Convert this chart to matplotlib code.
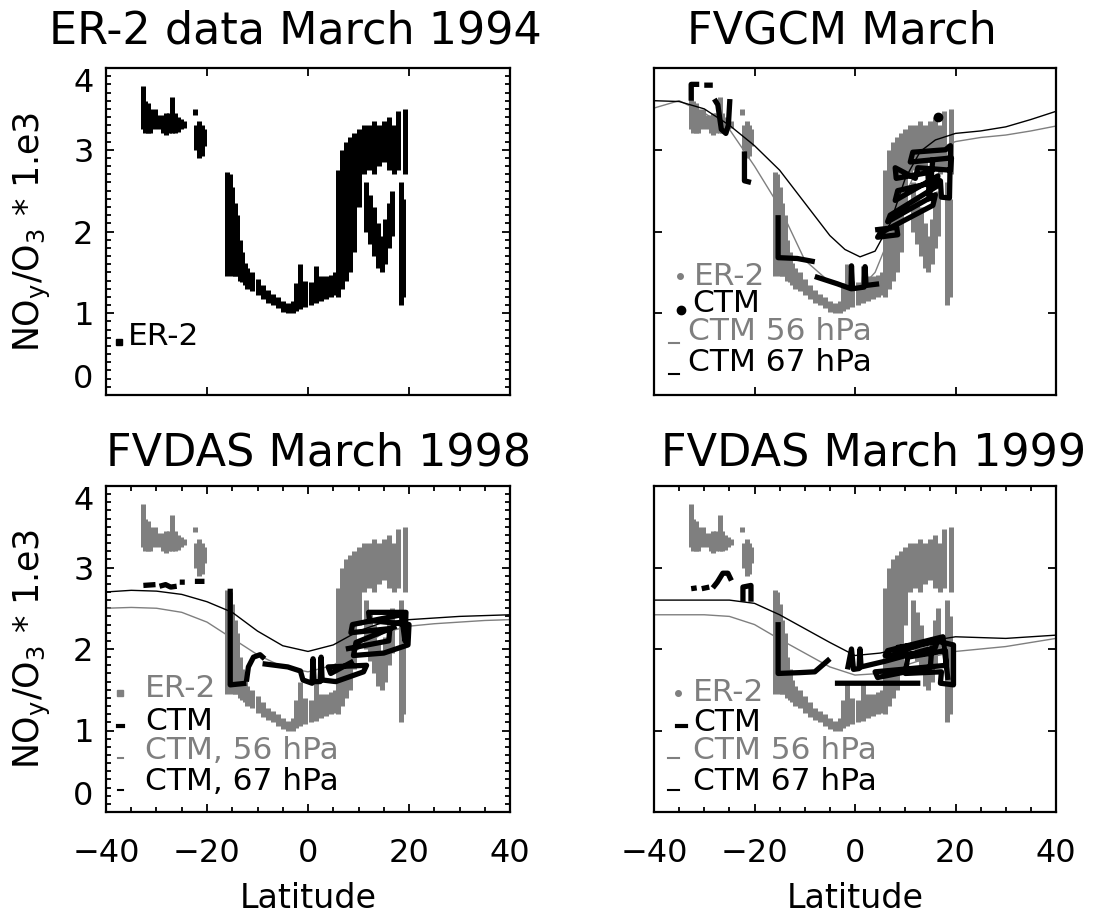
import numpy as np
import matplotlib.pyplot as plt
from matplotlib.ticker import MultipleLocator

GRAY = "#7f7f7f"
nan = np.nan

# ER-2 flight data, March 1994: spread of NOy/O3 (x 1e3) at each latitude
er2_lat = [-32.7, -32.2, -31.7, -31.2, -30.7, -30.2, -29.7, -28.7, -28.2, -27.6, -26.9, -26.4,
           -25.8, -25.2, -24.6,
           -22.4, -22.1, -21.5, -21.0, -20.6,
           -16.0, -15.5, -15.0, -14.5, -14.0, -13.5, -13.0, -12.5, -12.0, -11.0, -10.0,
           -9.0, -8.0, -7.0, -6.0, -5.0, -4.0, -3.0, -2.3, -1.5, -0.5, 0.5, 1.5, 2.5,
           3.5, 4.5, 5.3,
           6.0, 6.8, 7.6, 8.4, 9.2, 10.0,
           11.0, 12.0, 13.0, 14.0, 15.0, 16.0, 17.0, 17.8, 19.2,
           11.5, 12.3, 13.1, 13.9, 14.6, 15.3, 16.0, 16.6,
           18.4, 18.9]
er2_lo = [3.25, 3.20, 3.20, 3.20, 3.25, 3.30, 3.25, 3.20, 3.18, 3.20, 3.20, 3.20,
          3.22, 3.25, 3.27,
          3.43, 3.00, 2.90, 2.92, 3.05,
          1.45, 1.50, 1.45, 1.45, 1.45, 1.40, 1.38, 1.35, 1.30, 1.27, 1.22,
          1.17, 1.13, 1.10, 1.06, 1.02, 1.00, 1.00, 1.03, 1.05, 1.08, 1.10, 1.12, 1.15,
          1.18, 1.20, 1.22,
          1.20, 1.30, 1.40, 1.50, 1.75, 2.30,
          2.70, 2.75, 2.70, 2.80, 2.85, 2.75, 2.70, 2.75, 2.70,
          2.00, 1.85, 1.70, 1.55, 1.50, 1.60, 1.80, 1.95,
          1.10, 1.20]
er2_hi = [3.78, 3.60, 3.57, 3.50, 3.45, 3.50, 3.42, 3.42, 3.45, 3.45, 3.65, 3.45,
          3.40, 3.38, 3.35,
          3.50, 3.30, 3.35, 3.30, 3.25,
          2.73, 2.70, 2.55, 2.35, 2.20, 1.90, 1.75, 1.62, 1.55, 1.50, 1.42,
          1.35, 1.28, 1.24, 1.20, 1.15, 1.12, 1.15, 1.37, 1.60, 1.40, 1.38, 1.58, 1.45,
          1.45, 1.47, 1.50,
          2.75, 3.00, 3.10, 3.15, 3.20, 3.25,
          3.30, 3.30, 3.35, 3.30, 3.35, 3.40, 3.30, 3.47, 3.50,
          2.60, 2.45, 2.30, 2.10, 1.95, 2.15, 2.35, 2.50,
          2.60, 2.40]

# CTM fields on 56 and 67 hPa surfaces
curve_lat_gcm = [-40, -35, -30, -25, -20, -15, -10, -5, -2, 1, 4, 7, 10, 13, 16, 20, 25, 30, 35, 40]
gcm_67 = [3.60, 3.59, 3.50, 3.30, 3.05, 2.75, 2.35, 1.95, 1.78, 1.69, 1.76, 2.10, 2.65, 2.98,
          3.12, 3.20, 3.23, 3.28, 3.37, 3.47]
gcm_56 = [3.51, 3.60, 3.45, 3.25, 2.80, 2.30, 1.65, 1.38, 1.31, 1.30, 1.50, 1.95, 2.45, 2.85,
          3.00, 3.10, 3.15, 3.18, 3.23, 3.29]

curve_lat = [-40, -35, -30, -25, -20, -15, -10, -5, 0, 5, 10, 15, 20, 25, 30, 35, 40]
das98_67 = [2.70, 2.72, 2.71, 2.67, 2.58, 2.45, 2.22, 2.04, 1.97, 2.05, 2.22, 2.33, 2.36,
            2.38, 2.40, 2.41, 2.42]
das98_56 = [2.50, 2.51, 2.50, 2.45, 2.33, 2.13, 1.93, 1.78, 1.72, 1.80, 2.00, 2.20, 2.28,
            2.31, 2.33, 2.35, 2.36]
das99_67 = [2.60, 2.60, 2.60, 2.60, 2.56, 2.42, 2.25, 2.08, 1.92, 1.95, 2.02, 2.10, 2.15,
            2.14, 2.13, 2.15, 2.17]
das99_56 = [2.42, 2.42, 2.42, 2.40, 2.30, 2.12, 1.95, 1.78, 1.68, 1.70, 1.80, 1.90, 1.97,
            2.00, 2.03, 2.08, 2.13]

# CTM sampled along the ER-2 flight tracks (nan = gap between legs)
gcm_track_lat = [-32.6, -32.6, -31.0, nan, -30.0, -28.3, nan,
                 -28.0, -27.3, -26.6, -25.7, -25.2, -24.9, nan,
                 -22.0, -22.0, -20.7, nan,
                 -15.3, -15.3, -11.5, -8.0, nan,
                 -8.0, -3.5, -0.8, -0.7, -0.5, 1.8, 2.0, 2.2, 4.8, nan,
                 4.0, 8.3, 8.5, 4.5, 5.0, 15.5, 16.0, 6.5, 7.0, 16.2, 16.5, 8.0, 8.5, 17.0,
                 17.2, 18.8, 19.0, 18.0, 11.5, 11.0, 19.2, 19.0, 12.5, 12.0, 8.0, 8.2, 14.5,
                 14.8, 15.5]
gcm_track_val = [3.60, 3.80, 3.80, nan, 3.79, 3.79, nan,
                 3.62, 3.55, 3.25, 3.20, 3.30, 3.62, nan,
                 2.98, 2.62, 2.60, nan,
                 2.20, 1.68, 1.67, 1.63, nan,
                 1.45, 1.36, 1.30, 1.58, 1.30, 1.32, 1.57, 1.34, 1.36, nan,
                 2.02, 2.05, 1.96, 1.93, 1.98, 2.32, 2.45, 2.12, 2.20, 2.55, 2.68, 2.38, 2.50, 2.62,
                 2.42, 2.41, 3.05, 3.00, 2.97, 2.85, 2.90, 2.75, 2.78, 2.65, 2.78, 2.65, 2.72,
                 2.40, 2.90]

das98_track_lat = [-32.6, -30.2, nan, -29.4, -28.2, -27.2, -26.0, nan, -25.4, -24.4, nan,
                   -22.4, -20.5, nan,
                   -15.4, -15.4, -12.2, nan, -12.2, -11.8, -10.8, -9.5, -8.6, nan,
                   -9.0, -4.0, -1.5, -1.0, 0.8, 1.0, 1.2, 2.4, 2.6, 2.8, 5.5, 11.0, 11.6,
                   4.0, 4.5, 9.0, nan,
                   7.5, 16.0, 16.2, 8.5, 8.8, 18.5, 19.2, 19.4, 12.0, 12.2, 20.0, 19.8,
                   15.0, 9.0, 9.5, 17.5]
das98_track_val = [2.78, 2.79, nan, 2.77, 2.79, 2.76, 2.77, nan, 2.82, 2.82, nan,
                   2.83, 2.83, nan,
                   2.74, 1.56, 1.58, nan, 1.60, 1.78, 1.90, 1.93, 1.88, nan,
                   1.82, 1.78, 1.73, 1.62, 1.58, 1.88, 1.60, 1.60, 1.90, 1.62, 1.60, 1.72, 1.80,
                   1.78, 1.70, 1.85, nan,
                   2.00, 2.10, 2.25, 2.20, 2.30, 2.42, 2.10, 2.45, 2.45, 2.35, 2.30, 2.05,
                   1.95, 1.92, 2.08, 2.28]

das99_track_lat = [-32.6, -31.5, nan, -30.5, -29.0, nan, -28.3, -27.4, -26.3, -25.3, -24.6, nan,
                   -22.3, -22.3, -20.7, -20.7, nan,
                   -15.3, -15.3, -11.0, -8.0, -6.5, -5.0, nan,
                   -4.0, 13.0, nan,
                   -1.5, -0.7, -0.3, 0.8, 1.0, 1.2, 6.0, 16.0, 16.5, 8.0, 8.5, 16.8, 19.6,
                   19.6, 17.0, 17.2, 10.0, 10.5, 18.0, 18.2, 4.0, 4.5, 15.0, 15.2, 6.0, 6.5,
                   17.5, 18.5]
das99_track_val = [2.74, 2.75, nan, 2.74, 2.76, nan, 2.75, 2.82, 2.93, 2.93, 2.84, nan,
                   2.58, 2.76, 2.78, 2.58, nan,
                   2.33, 1.70, 1.71, 1.72, 1.80, 1.88, nan,
                   1.58, 1.58, nan,
                   1.75, 2.00, 1.75, 1.76, 2.00, 1.78, 1.85, 2.02, 2.12, 1.95, 2.02, 2.09, 2.05,
                   1.56, 1.58, 1.72, 1.70, 1.90, 1.98, 1.80, 1.72, 1.65, 1.78, 1.95, 1.92, 1.98,
                   2.15, 1.62]

plt.rcParams["font.family"] = "DejaVu Sans"
fig = plt.figure(figsize=(11.15, 9.15), dpi=100)

W, H = 1115, 915
boxes = [(106, 68, 510, 395), (654, 68, 1056, 395),
         (106, 486, 510, 812), (654, 486, 1056, 812)]
axes = [fig.add_axes([x0 / W, 1 - y1 / H, (x1 - x0) / W, (y1 - y0) / H])
        for x0, y0, x1, y1 in boxes]
ax1, ax2, ax3, ax4 = axes

for ax in axes:
    ax.set_xlim(-40, 40)
    ax.set_ylim(0, 4)
    ax.set_xticks([-40, -20, 0, 20, 40])
    ax.set_yticks([0, 1, 2, 3, 4])
    ax.tick_params(which="both", direction="in", top=True, right=True, width=1.3)
    ax.tick_params(which="major", length=6, labelsize=23)
    ax.tick_params(which="minor", length=3.5)
    ax.tick_params(axis="x", pad=19)
    ax.tick_params(axis="y", pad=9)
    for s in ax.spines.values():
        s.set_linewidth(1.6)

# ER-2 data alone
ax1.vlines(er2_lat, er2_lo, er2_hi, color="k", lw=3.6)
ax1.yaxis.set_minor_locator(MultipleLocator(0.1))
ax1.tick_params(labelbottom=False)
ax1.plot([-37.4], [0.65], "s", color="k", ms=4)
ax1.text(-35.6, 0.71, "ER-2", fontsize=22.5, va="center")


def model_panel(ax, clat, c56, c67, tlat, tval):
    ax.vlines(er2_lat, er2_lo, er2_hi, color=GRAY, lw=3.6, zorder=1)
    ax.plot(clat, c56, color=GRAY, lw=1.0, zorder=2)
    ax.plot(clat, c67, color="k", lw=1.0, zorder=2)
    ax.plot(tlat, tval, color="k", lw=3.8, zorder=3, solid_capstyle="butt")


model_panel(ax2, curve_lat_gcm, gcm_56, gcm_67, gcm_track_lat, gcm_track_val)
ax2.plot([16.6], [3.4], "o", color="k", ms=6, zorder=3)
ax2.tick_params(labelbottom=False, labelleft=False)
ax2.plot([-34.9], [1.45], "o", color=GRAY, ms=4)
ax2.text(-32.0, 1.45, "ER-2", color=GRAY, fontsize=22.5, va="center")
ax2.plot([-34.7], [1.04], "o", color="k", ms=6)
ax2.text(-32.3, 1.12, "CTM", fontsize=22.5, va="center")
ax2.plot([-37.0, -35.0], [0.64, 0.64], color=GRAY, lw=1.5)
ax2.text(-33.3, 0.78, "CTM 56 hPa", color=GRAY, fontsize=22.5, va="center")
ax2.plot([-37.0, -35.0], [0.26, 0.26], color="k", lw=1.5)
ax2.text(-33.3, 0.40, "CTM 67 hPa", fontsize=22.5, va="center")

model_panel(ax3, curve_lat, das98_56, das98_67, das98_track_lat, das98_track_val)
ax3.yaxis.set_minor_locator(MultipleLocator(0.1))
ax3.xaxis.set_minor_locator(MultipleLocator(5))
ax3.plot([-37.2], [1.46], "s", color=GRAY, ms=4)
ax3.text(-32.3, 1.52, "ER-2", color=GRAY, fontsize=22.5, va="center")
ax3.plot([-37.6, -36.6], [1.05, 1.05], color="k", lw=3)
ax3.text(-32.3, 1.11, "CTM", fontsize=22.5, va="center")
ax3.plot([-37.6, -36.6], [0.66, 0.66], color=GRAY, lw=1.5)
ax3.text(-32.3, 0.75, "CTM, 56 hPa", color=GRAY, fontsize=22.5, va="center")
ax3.plot([-37.6, -36.6], [0.27, 0.27], color="k", lw=1.5)
ax3.text(-32.3, 0.37, "CTM, 67 hPa", fontsize=22.5, va="center")

model_panel(ax4, curve_lat, das99_56, das99_67, das99_track_lat, das99_track_val)
ax4.xaxis.set_minor_locator(MultipleLocator(5))
ax4.tick_params(labelleft=False)
ax4.plot([-35.2], [1.46], "o", color=GRAY, ms=4)
ax4.text(-32.2, 1.47, "ER-2", color=GRAY, fontsize=22.5, va="center")
ax4.plot([-35.5, -33.7], [1.05, 1.05], color="k", lw=3)
ax4.text(-32.2, 1.10, "CTM", fontsize=22.5, va="center")
ax4.plot([-37.2, -35.0], [0.66, 0.66], color=GRAY, lw=1.5)
ax4.text(-32.2, 0.76, "CTM 56 hPa", color=GRAY, fontsize=22.5, va="center")
ax4.plot([-37.2, -35.0], [0.27, 0.27], color="k", lw=1.5)
ax4.text(-32.2, 0.37, "CTM 67 hPa", fontsize=22.5, va="center")

ylab = r"NO$_{\rm y}$/O$_{\rm 3}$ * 1.e3"
for ax in (ax1, ax3):
    ax.set_ylabel(ylab, fontsize=25, va="center")
    ax.yaxis.set_label_coords(-0.183, 0.5)
    labels = ax.get_yticklabels()
    labels[0].set_va("bottom")
    labels[-1].set_va("top")
for ax in (ax3, ax4):
    ax.set_xlabel("Latitude", fontsize=24, va="center")
    ax.xaxis.set_label_coords(0.5, -0.264)

titles = ["ER-2 data March 1994", "FVGCM March", "FVDAS March 1998", "FVDAS March 1999"]
tpos = [(0.468, 1.113), (0.468, 1.113), (0.527, 1.101), (0.545, 1.101)]
for ax, t, (tx, ty) in zip(axes, titles, tpos):
    ax.text(tx, ty, t, transform=ax.transAxes, fontsize=32, ha="center", va="center")

fig.savefig("out.png", dpi=100)
